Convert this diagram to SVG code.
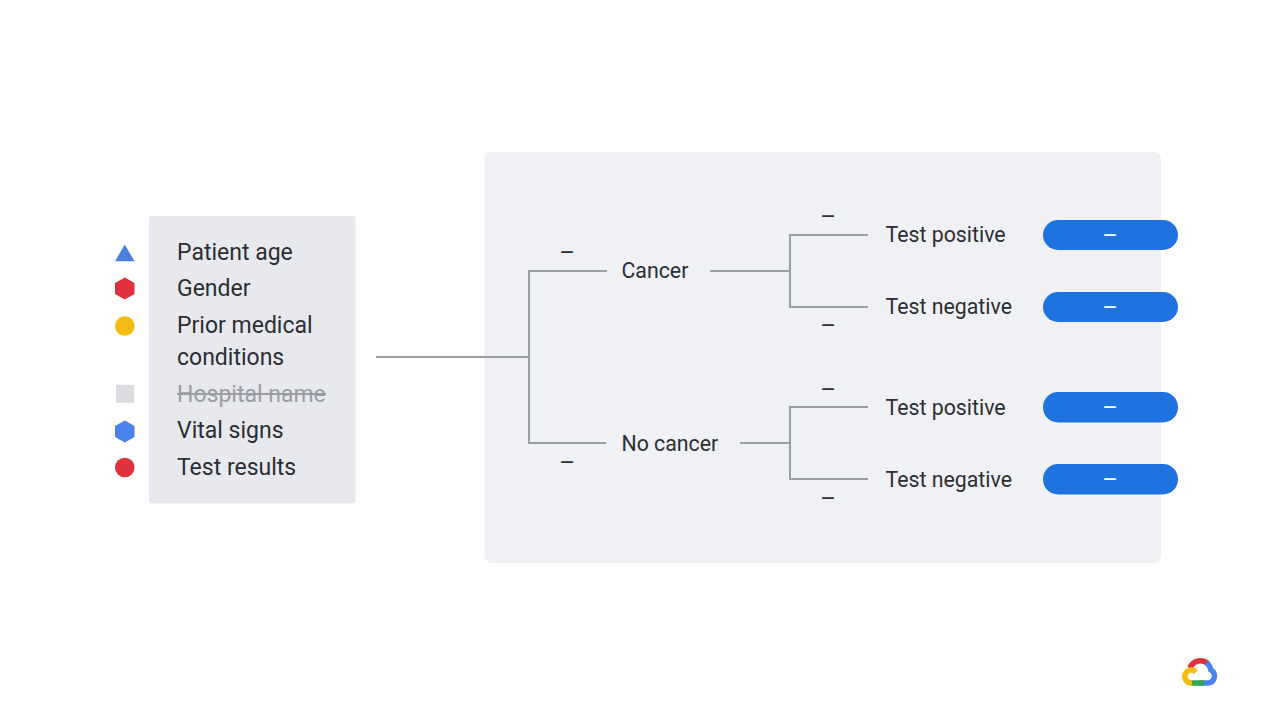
<svg xmlns="http://www.w3.org/2000/svg" width="1280" height="720" viewBox="0 0 1280 720">
<style>
text{font-family:Roboto,"Noto Sans",sans-serif;font-size:21.3px;fill:#2b2e32}
.l{font-size:23px}
.dash{font-size:24px;text-anchor:middle}
.w{fill:#fff;text-anchor:middle;font-size:24px}
.pill{fill:#1f73e0}
.c{fill:none;stroke:#9a9ea3;stroke-width:2}
</style>
<rect width="1280" height="720" fill="#fff"/>
<rect id="panel" x="484.500" y="152" width="676.500" height="411" rx="8" fill="#eff1f5"/>
<g id="inputs">
<rect x="149" y="216" width="206.500" height="287.500" rx="3" fill="#e8e9ee"/>
<polygon points="124.800,244.500 134.500,261.300 115,261.300" fill="#4a7fe0"/>
<polygon points="124.800,277.500 134.500,283 134.500,294 124.800,299.500 115,294 115,283" fill="#e0323c"/>
<circle cx="124.800" cy="326" r="9.800" fill="#f5bb12"/>
<rect x="116" y="384.800" width="18" height="18" fill="#dadce0"/>
<polygon points="124.800,420.500 134.500,426 134.500,437 124.800,442.500 115,437 115,426" fill="#4a83ec"/>
<circle cx="124.800" cy="467.500" r="9.800" fill="#e0323c"/>
<text class="l" x="177" y="259.500">Patient age</text>
<text class="l" x="177" y="295.500">Gender</text>
<text class="l" x="177" y="332.500">Prior medical</text>
<text class="l" x="177" y="364.500">conditions</text>
<text class="l" x="177" y="401.500" style="fill:#9a9ea3">Hospital name</text>
<line x1="177" y1="394" x2="326" y2="394" stroke="#9a9ea3" stroke-width="2"/>
<text class="l" x="177" y="437.500">Vital signs</text>
<text class="l" x="177" y="474.500">Test results</text>
</g>
<g id="connectors">
<path class="c" d="M376 357H529M607 271H529V443H606"/>
<path class="c" d="M710 271H790M868 235H790V307H868"/>
<path class="c" d="M740 443H790M868 407H790V479H868"/>
</g>
<g id="n-cancer"><text x="621.500" y="278">Cancer</text><text class="dash" x="567" y="261">–</text></g>
<g id="n-nocancer"><text x="621.500" y="450.500">No cancer</text><text class="dash" x="567" y="470.500">–</text></g>
<g id="n-tp1"><text x="885.500" y="242">Test positive</text><text class="dash" x="828" y="224.500">–</text><rect class="pill" x="1043" y="220" width="135" height="30" rx="15"/><text class="w" x="1110" y="243.500">–</text></g>
<g id="n-tn1"><text x="885.500" y="314">Test negative</text><text class="dash" x="828" y="334">–</text><rect class="pill" x="1043" y="292" width="135" height="30" rx="15"/><text class="w" x="1110" y="315.500">–</text></g>
<g id="n-tp2"><text x="885.500" y="414.500">Test positive</text><text class="dash" x="828" y="398">–</text><rect class="pill" x="1043" y="392" width="135" height="30.500" rx="15"/><text class="w" x="1110" y="416">–</text></g>
<g id="n-tn2"><text x="885.500" y="486.500">Test negative</text><text class="dash" x="828" y="507">–</text><rect class="pill" x="1043" y="464" width="135" height="30.500" rx="15"/><text class="w" x="1110" y="488">–</text></g>
<g id="logo" fill="none" stroke-width="5.500">
<path d="M1190 668A11 11 0 0 1 1208.500 664.500" stroke="#e0323c"/>
<path d="M1206.500 662.500C1209 665 1210.500 668 1211 670A7 7 0 0 1 1208 683H1199" stroke="#4a83ec"/>
<path d="M1204 683H1191" stroke="#34a853"/>
<path d="M1192 683A6.500 6.500 0 1 1 1196 672" stroke="#f5bb12"/>
</g>
</svg>
